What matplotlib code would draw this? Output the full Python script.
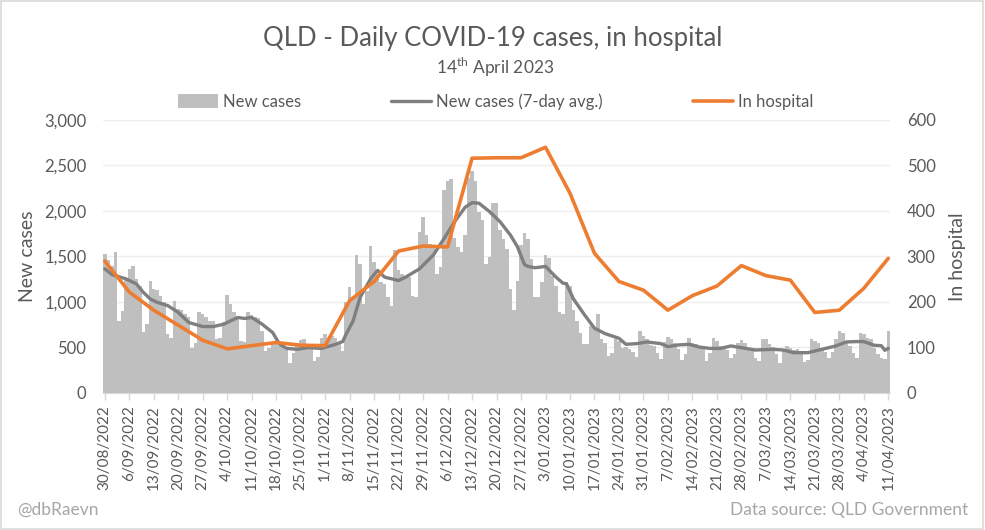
import numpy as np
import pandas as pd
import matplotlib
matplotlib.use("Agg")
import matplotlib.pyplot as plt
from matplotlib.patches import Rectangle

plt.rcParams['font.family'] = ['Lato', 'DejaVu Sans']
plt.rcParams['mathtext.fontset'] = 'custom'
plt.rcParams['mathtext.rm'] = 'Lato'

# daily new cases from 30/08/2022 to 11/04/2023
new_cases = [
    1530, 1460, 1400, 1550, 793, 904, 1250, 1365, 1400, 1250,
    1180, 672, 756, 1236, 1144, 1133, 1070, 996, 646, 609,
    1015, 922, 911, 867, 830, 490, 553, 893, 867, 830,
    793, 790, 590, 600, 780, 1081, 978, 885, 849, 572,
    560, 889, 860, 830, 820, 683, 461, 498, 560, 540,
    520, 500, 470, 332, 443, 535, 579, 590, 530, 510,
    350, 400, 600, 653, 600, 627, 609, 535, 461, 1000,
    1162, 1052, 1513, 1413, 978, 1125, 1613, 1439, 1310, 1218,
    1200, 1052, 960, 1568, 1347, 1310, 1291, 1273, 1070, 1050,
    1771, 1930, 1734, 1642, 1624, 1310, 1380, 2232, 2325, 2350,
    1700, 1605, 1550, 1734, 2362, 2435, 2325, 1993, 1900, 1421,
    1494, 2092, 2085, 1790, 1697, 1587, 1144, 911, 1236, 1624,
    1753, 1697, 1476, 1059, 1052, 1218, 1513, 1487, 1291, 1181,
    886, 867, 1218, 1180, 915, 793, 664, 535, 542, 738,
    700, 867, 590, 553, 406, 443, 590, 570, 498, 510,
    480, 450, 395, 683, 627, 590, 528, 517, 443, 369,
    560, 616, 590, 553, 480, 358, 430, 609, 553, 535,
    500, 480, 350, 440, 609, 572, 517, 480, 470, 387,
    424, 553, 579, 553, 480, 460, 387, 350, 590, 598,
    535, 500, 424, 332, 480, 517, 498, 470, 480, 460,
    343, 360, 598, 572, 553, 480, 450, 387, 450, 590,
    683, 664, 572, 517, 440, 387, 664, 646, 609, 590,
    498, 424, 380, 369, 683,
]

# 7-day average, read at these day offsets
avg_days = [0, 2, 3, 6, 9, 11, 13, 15, 18, 21, 24, 28, 31, 34, 38, 40, 42, 45,
            48, 50, 52, 55, 58, 62, 66, 68, 69, 71, 73, 76, 78, 80, 84, 86, 90,
            94, 97, 100, 103, 105, 107, 110, 113, 116, 118, 120, 121, 123, 126,
            129, 131, 132, 134, 137, 140, 143, 147, 149, 152, 155, 159, 161,
            164, 167, 170, 173, 176, 179, 182, 186, 191, 194, 197, 201, 205,
            209, 212, 215, 217, 220, 222, 223, 224]
avg_vals = [1365, 1303, 1290, 1255, 1200, 1107, 1033, 996, 960, 886, 775, 730,
            730, 756, 830, 819, 830, 756, 664, 535, 490, 480, 498, 490, 535,
            565, 646, 793, 1052, 1255, 1347, 1273, 1236, 1273, 1365, 1520,
            1697, 1882, 2040, 2092, 2085, 1993, 1882, 1734, 1605, 1410, 1391,
            1376, 1391, 1273, 1207, 1200, 1033, 867, 712, 653, 601, 535, 542,
            561, 542, 509, 528, 535, 505, 490, 490, 517, 498, 472, 480, 472,
            443, 443, 480, 517, 561, 565, 565, 524, 520, 469, 490]

# in hospital, weekly
hospital = [290, 222, 182, 149, 116, 97, 104, 111, 105, 104, 203, 245, 312,
            323, 321, 516, 517, 517, 540, 439, 307, 245, 226, 182, 214, 235,
            280, 258, 248, 177, 182, 230, 296]

dates = pd.date_range("2022-08-30", periods=len(new_cases), freq="D")
x = np.arange(len(new_cases))
week_idx = x[::7]
tick_labels = [f"{d.day}/{d.month:02d}/{d.year}" for d in dates[::7]]

txt = '#595959'
fig = plt.figure(figsize=(9.85, 5.3), dpi=100)
fig.patches.append(Rectangle((0.001, 0.002), 0.997, 0.996, transform=fig.transFigure,
                             fill=False, edgecolor='#d9d9d9', linewidth=1.2))
ax = fig.add_axes([0.1046, 0.2585, 0.7990, 0.5151])
ax2 = ax.twinx()

bars = ax.bar(x, new_cases, width=1.0, color='#bfbfbf', linewidth=0, label='New cases', zorder=2)
avg_line, = ax.plot(avg_days, avg_vals, color='#7f7f7f', linewidth=2.4,
                    label='New cases (7-day avg.)', zorder=3, solid_capstyle='round')
hosp_line, = ax2.plot(week_idx, hospital, color='#ed7d31', linewidth=2.6, label='In hospital',
                      solid_capstyle='round')

ax.set_xlim(-0.5, len(new_cases) - 0.5)
ax.set_ylim(0, 3000)
ax2.set_ylim(0, 600)
ax.set_yticks(range(0, 3001, 500))
ax.set_yticklabels([f"{v:,}" for v in range(0, 3001, 500)])
ax2.set_yticks(range(0, 601, 100))
ax.set_xticks(week_idx)
ax.set_xticklabels(tick_labels, rotation=90)

ax.grid(axis='y', color='#eeeeee', linewidth=1.0, zorder=0)
ax.set_axisbelow(True)
for a in (ax, ax2):
    for s in a.spines.values():
        s.set_visible(False)
ax.spines['bottom'].set_visible(True)
ax.spines['bottom'].set_color('#d9d9d9')
ax.spines['bottom'].set_zorder(4)

ax.tick_params(axis='x', colors='#d9d9d9', labelcolor=txt, labelsize=11, length=5, width=1)
ax.tick_params(axis='y', length=0, labelcolor=txt, labelsize=12, pad=12)
ax2.tick_params(axis='y', length=0, labelcolor=txt, labelsize=12, pad=12)

ax.set_ylabel('New cases', color=txt, fontsize=14, labelpad=6)
ax2.set_ylabel('In hospital', color=txt, fontsize=14, labelpad=10)

fig.text(0.500, 0.928, 'QLD - Daily COVID-19 cases, in hospital', ha='center', va='center',
         fontsize=18.5, color=txt)
fig.text(0.503, 0.873, r'14$^{\mathrm{th}}$ April 2023', ha='center', va='center',
         fontsize=12.5, color=txt)

fig.legend([bars, avg_line, hosp_line],
           ['New cases', 'New cases (7-day avg.)', 'In hospital'],
           loc='center', bbox_to_anchor=(0.503, 0.808), ncol=3,
           frameon=False, fontsize=12, labelcolor=txt, handlelength=2.4,
           handletextpad=0.3, columnspacing=5.4, handleheight=0.9)

fig.text(0.017, 0.038, '@dbRaevn', ha='left', va='center', fontsize=12.5, color='#a6a6a6')
fig.text(0.983, 0.038, 'Data source: QLD Government', ha='right', va='center',
         fontsize=12.5, color='#a6a6a6')

fig.savefig('out.png', dpi=100)
